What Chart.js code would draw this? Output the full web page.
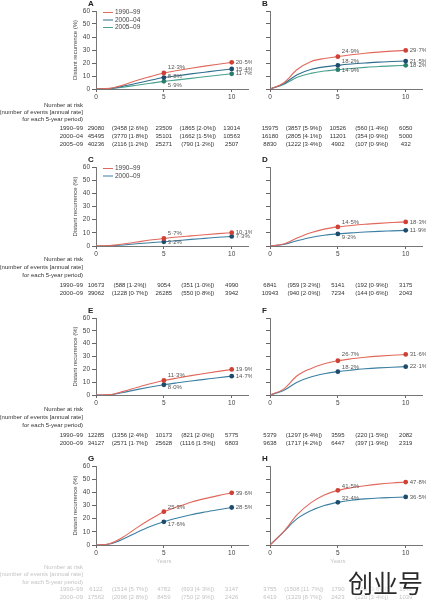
<!DOCTYPE html>
<html lang="en">
<head>
<meta charset="UTF-8">
<title>Distant recurrence by period of diagnosis</title>
<script src="https://cdn.jsdelivr.net/npm/chart.js@4.4.1/dist/chart.umd.min.js"></script>
<style>
  body { margin: 0; background: #fff; }
  #wrap { position: relative; width: 426px; height: 600px; overflow: hidden; }
  canvas { position: absolute; }
  #mark { position: absolute; left: 348px; top: 564px; font: 25px "Noto Sans CJK SC"; color: #2a2a2a;
          white-space: nowrap; text-shadow: 0 0 2px #fff, 0 0 3px #fff, 0 0 4px #fff; }
</style>
</head>
<body>
<div id="wrap">
  <canvas id="pA" width="252" height="150" style="left:0;top:0"></canvas>
  <canvas id="pB" width="174" height="150" style="left:252px;top:0"></canvas>
  <canvas id="pC" width="252" height="150" style="left:0;top:150px"></canvas>
  <canvas id="pD" width="174" height="150" style="left:252px;top:150px"></canvas>
  <canvas id="pE" width="252" height="150" style="left:0;top:300px"></canvas>
  <canvas id="pF" width="174" height="150" style="left:252px;top:300px"></canvas>
  <canvas id="pG" width="252" height="150" style="left:0;top:450px"></canvas>
  <canvas id="pH" width="174" height="150" style="left:252px;top:450px"></canvas>
  <div id="mark">创业号</div>
</div>
<script>
// ---- data ----
const years = [0, 1, 2, 3, 4, 5, 6, 7, 8, 9, 10];
const xTicks = [0, 5, 10];
const riskCols = [0, 2.5, 5, 7.5, 10];
const periods3 = ['1990–99', '2000–04', '2005–09'];
const periods2 = ['1990–99', '2000–09'];

const a1990 = [0, 0.5, 3, 6.5, 9.5, 12.3, 14.2, 16, 17.6, 19.1, 20.5];
const a2000 = [0, 0.4, 2.2, 4.4, 6.7, 8.8, 10.2, 11.6, 12.9, 14.2, 15.4];
const a2005 = [0, 0.3, 1.4, 2.9, 4.4, 5.9, 7.0, 8.2, 9.4, 10.6, 11.7];
const b1990 = [0, 4.6, 15, 21, 23.5, 24.9, 26.3, 27.5, 28.4, 29.1, 29.7];
const b2000 = [0, 4, 11, 15, 17, 18.2, 19.2, 20, 20.7, 21.1, 21.5];
const b2005 = [0, 3.5, 9, 12, 13.8, 14.9, 15.8, 16.6, 17.3, 17.8, 18.2];
const c1990 = [0, 0.3, 1.5, 3, 4.5, 5.7, 6.8, 7.7, 8.6, 9.4, 10.1];
const c2000 = [0, 0.2, 0.8, 1.7, 2.5, 3.2, 4.1, 5, 5.8, 6.6, 7.3];
const d1990 = [0, 1.5, 6, 10, 12.8, 14.5, 15.6, 16.5, 17.2, 17.8, 18.3];
const d2000 = [0, 1.2, 4, 6.5, 8.2, 9.2, 10, 10.6, 11.1, 11.5, 11.9];
const e1990 = [0, 0.3, 2.8, 5.8, 8.7, 11.3, 13.3, 15.1, 16.8, 18.4, 19.9];
const e2000 = [0, 0.2, 2, 4.2, 6.2, 8.0, 9.5, 10.9, 12.2, 13.5, 14.7];
const f1990 = [0, 4.6, 15, 20.5, 24.3, 26.7, 28.2, 29.4, 30.3, 31.0, 31.6];
const f2000 = [0, 3.5, 10, 14, 16.5, 18.2, 19.4, 20.4, 21.1, 21.6, 22.1];
const g1990 = [0, 1, 6, 13, 19.5, 25.3, 29, 32.5, 35.2, 37.5, 39.6];
const g2000 = [0, 0.8, 4.5, 9.5, 14, 17.6, 20.5, 23, 25, 26.8, 28.5];
const h1990 = [0, 10, 23, 32, 38, 41.5, 43.5, 45, 46.2, 47.1, 47.8];
const h2000 = [0, 10, 20, 26, 30, 32.4, 34, 35, 35.7, 36.1, 36.5];

// number at risk (number of events [annual rate]) at 0, 0-5, 5, 5-10, 10 years
const riskA = [
  ['29080', '(3458 [2·6%])', '23509', '(1865 [2·0%])', '13014'],
  ['45495', '(3770 [1·8%])', '35101', '(1662 [1·5%])', '10563'],
  ['40236', '(2116 [1·2%])', '25271', '(790 [1·2%])', '2507']];
const riskB = [
  ['15975', '(3857 [5·9%])', '10526', '(560 [1·4%])', '6050'],
  ['16180', '(2805 [4·1%])', '11201', '(354 [0·9%])', '5000'],
  ['8830', '(1222 [3·4%])', '4902', '(107 [0·9%])', '432']];
const riskC = [
  ['10673', '(588 [1·2%])', '9054', '(351 [1·0%])', '4990'],
  ['39062', '(1228 [0·7%])', '26285', '(550 [0·8%])', '3942']];
const riskD = [
  ['6841', '(959 [3·2%])', '5141', '(192 [0·9%])', '3175'],
  ['10943', '(940 [2·0%])', '7234', '(144 [0·6%])', '2043']];
const riskE = [
  ['12285', '(1356 [2·4%])', '10173', '(821 [2·0%])', '5775'],
  ['34127', '(2571 [1·7%])', '25628', '(1116 [1·5%])', '6803']];
const riskF = [
  ['5379', '(1297 [6·4%])', '3595', '(220 [1·5%])', '2082'],
  ['9638', '(1717 [4·2%])', '6447', '(397 [1·9%])', '2319']];
const riskG = [
  ['6122', '(1514 [5·7%])', '4782', '(693 [4·3%])', '3147'],
  ['17562', '(2096 [2·8%])', '8459', '(750 [2·9%])', '2426']];
const riskH = [
  ['3755', '(1508 [11·7%])', '1790', '(155 [3·6%])', '1142'],
  ['6419', '(1329 [8·7%])', '2423', '(120 [3·4%])', '1039']];

// ---- styling ----
const RED = '#e2685b', RED_PT = '#cf4036';
const BLUE = '#2f6e8e', BLUE_PT = '#1d4b6b';
const GREEN = '#4aa190', GREEN_PT = '#2c7d6d';
const STEEL = '#3b7fa2';
const FONT = '"Liberation Sans", Arial, sans-serif';

// row geometry (canvas-relative y positions)
const rowGeom = [
  { top: 11, bottom: 89, head: [105, 112, 119], rows: [128, 136, 144], years: null, ink: '#333' },
  { top: 17, bottom: 96, head: [109, 117, 125], rows: [135, 143], years: null, ink: '#333' },
  { top: 18, bottom: 95, head: [109, 117, 125], rows: [135, 143], years: null, ink: '#333' },
  { top: 16, bottom: 95, head: [117, 124, 132], rows: [139, 147], years: 111, ink: '#c4c4c4' }
];

function series(labels, values, colors, markers) {
  return values.map((v, i) => ({ label: labels[i], data: v, color: colors[i], marker: markers[i] }));
}

const panels = {
  pA: { letter: 'A', row: 0, left: true, legend: true, risk: riskA, labels: periods3, dy5: [-6, -1, 4],
        series: series(periods3, [a1990, a2000, a2005], [RED, BLUE, GREEN], [RED_PT, BLUE_PT, GREEN_PT]) },
  pB: { letter: 'B', row: 0, left: false, legend: false, risk: riskB, labels: periods3, dy5: [-5, -4, 1],
        series: series(periods3, [b1990, b2000, b2005], [RED, BLUE, GREEN], [RED_PT, BLUE_PT, GREEN_PT]) },
  pC: { letter: 'C', row: 1, left: true, legend: true, risk: riskC, labels: periods2, dy5: [-5, 1],
        series: series(periods2, [c1990, c2000], [RED, STEEL], [RED_PT, BLUE_PT]) },
  pD: { letter: 'D', row: 1, left: false, legend: false, risk: riskD, labels: periods2, dy5: [-5, 3],
        series: series(periods2, [d1990, d2000], [RED, STEEL], [RED_PT, BLUE_PT]) },
  pE: { letter: 'E', row: 2, left: true, legend: false, risk: riskE, labels: periods2, dy5: [-5, 3],
        series: series(periods2, [e1990, e2000], [RED, STEEL], [RED_PT, BLUE_PT]) },
  pF: { letter: 'F', row: 2, left: false, legend: false, risk: riskF, labels: periods2, dy5: [-6, -4],
        series: series(periods2, [f1990, f2000], [RED, STEEL], [RED_PT, BLUE_PT]) },
  pG: { letter: 'G', row: 3, left: true, legend: false, risk: riskG, labels: periods2, dy5: [-4, 3],
        series: series(periods2, [g1990, g2000], [RED, STEEL], [RED_PT, BLUE_PT]) },
  pH: { letter: 'H', row: 3, left: false, legend: false, risk: riskH, labels: periods2, dy5: [-4, -4],
        series: series(periods2, [h1990, h2000], [RED, STEEL], [RED_PT, BLUE_PT]) }
};

const fmt = v => v.toFixed(1).replace('.', '·') + '%';

// letters, legend, end-point labels and the number-at-risk table
const panelText = {
  id: 'panelText',
  afterDraw(chart) {
    const p = panels[chart.canvas.id];
    const g = rowGeom[p.row];
    const ctx = chart.ctx, xs = chart.scales.x, ys = chart.scales.y, area = chart.chartArea;
    ctx.save();
    ctx.textBaseline = 'middle';

    ctx.fillStyle = '#222';
    ctx.font = 'bold 8px ' + FONT;
    ctx.textAlign = 'left';
    ctx.fillText(p.letter, area.left - 8, area.top - 7);

    if (p.legend) {
      ctx.font = '6.5px ' + FONT;
      p.series.forEach((s, i) => {
        const ly = area.top + 1.5 + i * 7.5;
        ctx.strokeStyle = s.color;
        ctx.lineWidth = 1;
        ctx.beginPath();
        ctx.moveTo(area.left + 7, ly);
        ctx.lineTo(area.left + 17, ly);
        ctx.stroke();
        ctx.fillStyle = '#444';
        ctx.fillText(s.label, area.left + 19, ly);
      });
    }

    ctx.font = '6px ' + FONT;
    ctx.fillStyle = '#555';
    p.series.forEach((s, i) => {
      [5, 10].forEach(yr => {
        const v = s.data[years.indexOf(yr)];
        const px = xs.getPixelForValue(yr) + 4;
        const py = ys.getPixelForValue(v) + (yr === 5 ? p.dy5[i] : 0);
        ctx.fillText(fmt(v), px, py);
      });
    });

    ctx.fillStyle = g.ink;
    ctx.font = '6px ' + FONT;
    if (g.years) {
      ctx.textAlign = 'center';
      ctx.fillText('Years', xs.getPixelForValue(5), g.years);
    }
    const labX = area.left - 13;
    if (p.left) {
      ctx.textAlign = 'right';
      ['Number at risk', '(number of events [annual rate]', 'for each 5-year period)']
        .forEach((t, i) => ctx.fillText(t, labX, g.head[i]));
      p.labels.forEach((t, i) => ctx.fillText(t, labX, g.rows[i]));
    }
    ctx.textAlign = 'center';
    p.risk.forEach((row, i) => {
      row.forEach((t, j) => ctx.fillText(t, xs.getPixelForValue(riskCols[j]), g.rows[i]));
    });
    ctx.restore();
  }
};

function makeChart(id) {
  const p = panels[id];
  const g = rowGeom[p.row];
  const axisColor = '#666';
  new Chart(document.getElementById(id), {
    type: 'line',
    data: {
      datasets: p.series.map(s => ({
        label: s.label,
        data: years.map((yr, i) => ({ x: yr, y: s.data[i] })),
        borderColor: s.color,
        borderWidth: 1.1,
        fill: false,
        cubicInterpolationMode: 'monotone',
        pointRadius: c => (c.raw && (c.raw.x === 5 || c.raw.x === 10)) ? 2.4 : 0,
        pointBackgroundColor: s.marker,
        pointBorderColor: s.marker,
        pointBorderWidth: 0
      }))
    },
    options: {
      responsive: false,
      animation: false,
      layout: { padding: { left: p.left ? 70 : 0, right: 1, top: g.top, bottom: 0 } },
      plugins: { legend: { display: false }, tooltip: { enabled: false } },
      scales: {
        x: {
          type: 'linear', min: 0, max: 11.2,
          afterBuildTicks: ax => { ax.ticks = xTicks.map(v => ({ value: v })); },
          afterFit: ax => { ax.height = 150 - g.bottom; },
          ticks: { color: '#444', font: { size: 6.5, family: FONT }, padding: 1, maxRotation: 0, autoSkip: false },
          grid: { drawOnChartArea: false, tickLength: 3, color: axisColor },
          border: { color: axisColor, width: 0.9 }
        },
        y: {
          min: 0, max: 60,
          afterFit: ax => { ax.width = p.left ? 26 : 18; },
          ticks: { stepSize: 10, color: '#444', font: { size: 6.5, family: FONT }, padding: 2,
                   callback: v => p.left ? v : '' },
          grid: { drawOnChartArea: false, tickLength: 4, color: axisColor },
          border: { color: axisColor, width: 0.9 },
          title: { display: p.left, text: 'Distant recurrence (%)', color: '#444',
                   font: { size: 6, family: FONT }, padding: { top: 2, bottom: 0 } }
        }
      }
    },
    plugins: [panelText]
  });
}

Object.keys(panels).forEach(makeChart);
</script>
</body>
</html>
